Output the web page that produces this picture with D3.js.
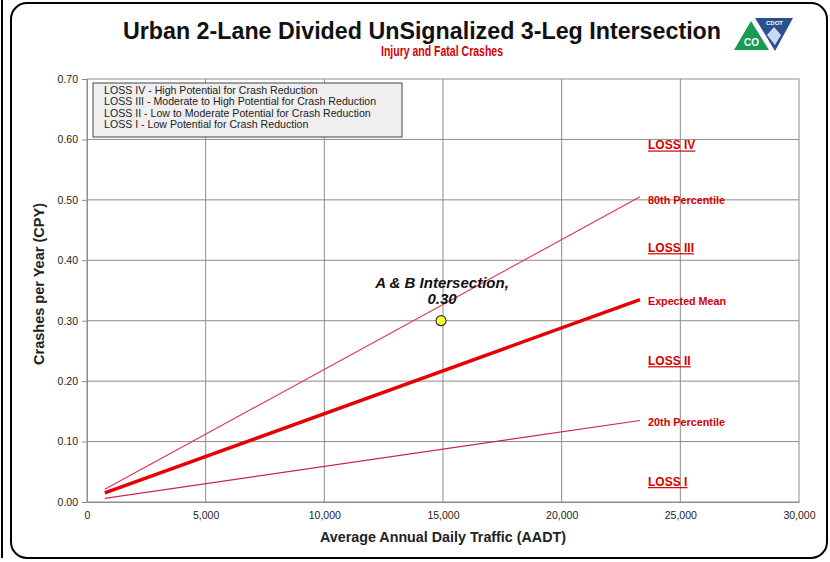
<!DOCTYPE html>
<html>
<head>
<meta charset="utf-8">
<script src="https://cdn.jsdelivr.net/npm/d3@7"></script>
<style>
  body { margin: 0; background: #fff; }
  svg { display: block; }
</style>
</head>
<body>
<div id="content"></div>
<script>
// data
const aadt = [750, 23300];
const expectedMean = [0.015, 0.335];
const pct80 = [0.021, 0.505];
const pct20 = [0.006, 0.135];
const site = { name: "A & B Intersection,", aadt: 15000, cpy: 0.30 };
const xTicks = [0, 5000, 10000, 15000, 20000, 25000, 30000];
const yTicks = [0, 0.1, 0.2, 0.3, 0.4, 0.5, 0.6, 0.7];
const legendLines = [
  "LOSS IV - High Potential for Crash Reduction",
  "LOSS III - Moderate to High Potential for Crash Reduction",
  "LOSS II - Low to Moderate Potential for Crash Reduction",
  "LOSS I - Low Potential for Crash Reduction"
];
// right side labels: [text, y value, underlined]
const sideLabels = [
  ["LOSS IV", 0.59, true],
  ["80th Percentile", 0.50, false],
  ["LOSS III", 0.42, true],
  ["Expected Mean", 0.333, false],
  ["LOSS II", 0.233, true],
  ["20th Percentile", 0.133, false],
  ["LOSS I", 0.033, true]
];

const width = 830, height = 562;
const red = "#d40000";
const font = "'Liberation Sans', Arial, sans-serif";

const svg = d3.select("#content").append("svg")
  .attr("width", width).attr("height", height)
  .style("font-family", font);

// frames
svg.append("path")
  .attr("d", "M2,0 L2,558")
  .attr("stroke", "#000").attr("stroke-width", 2).attr("fill", "none");
svg.append("rect")
  .attr("x", 11).attr("y", 3).attr("width", 816).attr("height", 555)
  .attr("rx", 16).attr("ry", 16)
  .attr("fill", "#fff").attr("stroke", "#000").attr("stroke-width", 2);

const x = d3.scaleLinear().domain([0, 30000]).range([87, 799]);
const y = d3.scaleLinear().domain([0, 0.7]).range([502, 79]);

// grid
const g = svg.append("g");
g.selectAll("line.vg").data(xTicks).join("line")
  .attr("x1", d => x(d)).attr("x2", d => x(d))
  .attr("y1", y(0.7)).attr("y2", y(0))
  .attr("stroke", "#8c8c8c").attr("stroke-width", 1);
g.selectAll("line.hg").data(yTicks).join("line")
  .attr("x1", x(0)).attr("x2", x(30000))
  .attr("y1", d => y(d)).attr("y2", d => y(d))
  .attr("stroke", "#8c8c8c").attr("stroke-width", 1);

// axes
const yAxis = svg.append("g")
  .attr("transform", `translate(${x(0)},0)`)
  .call(d3.axisLeft(y).tickValues(yTicks).tickFormat(d3.format(".2f")).tickSize(5).tickPadding(4));
const xAxis = svg.append("g")
  .attr("transform", `translate(0,${y(0)})`)
  .call(d3.axisBottom(x).tickValues(xTicks).tickFormat(d3.format(",")).tickSize(0).tickPadding(10));
[xAxis, yAxis].forEach(a => {
  a.select(".domain").attr("stroke", "#8c8c8c");
  a.selectAll(".tick line").attr("stroke", "#8c8c8c");
  a.selectAll("text").attr("font-size", 10.5).attr("fill", "#222");
});

// legend box
const lg = svg.append("g");
lg.append("rect")
  .attr("x", 93).attr("y", 83).attr("width", 309).attr("height", 54)
  .attr("fill", "#efefef").attr("stroke", "#444").attr("stroke-width", 1);
lg.selectAll("text").data(legendLines).join("text")
  .attr("x", 104).attr("y", (d, i) => 94 + i * 11.3)
  .attr("font-size", 10.6).attr("fill", "#222")
  .text(d => d);

// lines
const line = d3.line().x(d => x(d[0])).y(d => y(d[1]));
const series = [
  [pct80, "#dc3358", 1.1],
  [pct20, "#c82848", 1.1],
  [expectedMean, "#e60000", 3.5]
];
svg.selectAll("path.series").data(series).join("path")
  .attr("class", "series")
  .attr("d", d => line(aadt.map((a, i) => [a, d[0][i]])))
  .attr("fill", "none").attr("stroke", d => d[1]).attr("stroke-width", d => d[2]);

// side labels
svg.selectAll("text.side").data(sideLabels).join("text")
  .attr("class", "side")
  .attr("x", 648).attr("y", d => y(d[1]) + 4)
  .attr("font-size", d => d[2] ? 12 : 10.5)
  .attr("font-weight", "bold")
  .attr("fill", red)
  .attr("textLength", d => d[2] ? null : (d[0][0] === "E" ? 78 : 77))
  .attr("lengthAdjust", "spacingAndGlyphs")
  .attr("text-decoration", d => d[2] ? "underline" : null)
  .text(d => d[0]);

// site point and annotation
svg.append("circle")
  .attr("cx", x(site.aadt) - 2).attr("cy", y(site.cpy)).attr("r", 5)
  .attr("fill", "#ffff33").attr("stroke", "#333").attr("stroke-width", 1.2);
svg.append("text")
  .attr("x", x(site.aadt) - 1).attr("y", 288)
  .attr("text-anchor", "middle").attr("font-size", 15)
  .attr("font-weight", "bold").attr("font-style", "italic").attr("fill", "#111")
  .text(site.name);
svg.append("text")
  .attr("x", x(site.aadt) - 1).attr("y", 304)
  .attr("text-anchor", "middle").attr("font-size", 15)
  .attr("font-weight", "bold").attr("font-style", "italic").attr("fill", "#111")
  .text(d3.format(".2f")(site.cpy));

// titles
svg.append("text")
  .attr("x", 422).attr("y", 39).attr("text-anchor", "middle")
  .attr("font-size", 24).attr("font-weight", "bold")
  .attr("fill", "#111")
  .attr("textLength", 598).attr("lengthAdjust", "spacingAndGlyphs")
  .text("Urban 2-Lane Divided UnSignalized 3-Leg Intersection");
svg.append("text")
  .attr("x", 442).attr("y", 56).attr("text-anchor", "middle")
  .attr("font-size", 14).attr("font-weight", "bold")
  .attr("fill", red)
  .attr("textLength", 122).attr("lengthAdjust", "spacingAndGlyphs")
  .text("Injury and Fatal Crashes");
svg.append("text")
  .attr("transform", `translate(44,${284}) rotate(-90)`)
  .attr("text-anchor", "middle")
  .attr("font-size", 14).attr("font-weight", "bold")
  .attr("fill", "#222")
  .attr("textLength", 162).attr("lengthAdjust", "spacingAndGlyphs")
  .text("Crashes per Year (CPY)");
svg.append("text")
  .attr("x", 443).attr("y", 542).attr("text-anchor", "middle")
  .attr("font-size", 14.5).attr("font-weight", "bold")
  .attr("fill", "#222")
  .attr("textLength", 246).attr("lengthAdjust", "spacingAndGlyphs")
  .text("Average Annual Daily Traffic (AADT)");

// CDOT logo
const logo = svg.append("g").attr("transform", "translate(733,17)");
logo.append("path").attr("d", "M1,33 L18,4 L36,33 Z").attr("fill", "#1a9a55");
logo.append("path").attr("d", "M22,1 L60,1 L42,34 Z").attr("fill", "#2c4f8f");
logo.append("path").attr("d", "M34,18 L41,10 L48,18 L42,28 Z").attr("fill", "#c6d9ee");
logo.append("text").attr("x", 11).attr("y", 29).attr("font-size", 10)
  .attr("font-weight", "bold").attr("fill", "#fff").text("CO");
logo.append("text").attr("x", 33).attr("y", 8).attr("font-size", 6)
  .attr("font-weight", "bold").attr("fill", "#fff").text("CDOT");
</script>
</body>
</html>
